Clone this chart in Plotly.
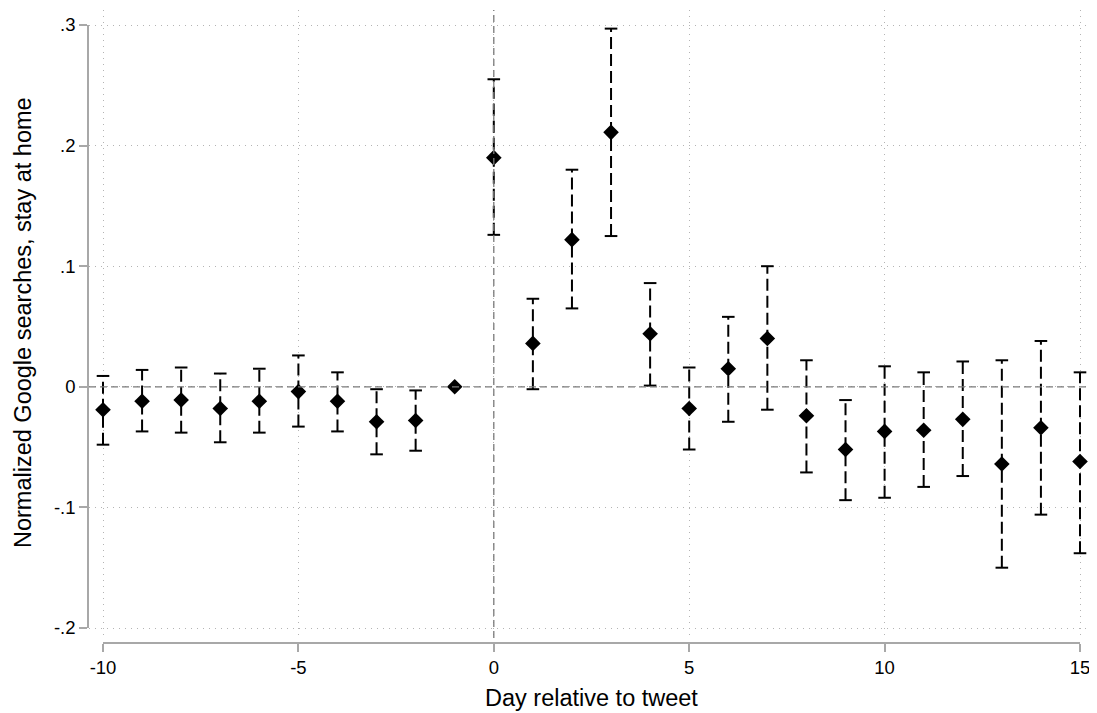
import plotly.graph_objects as go

# event-study estimates
days = list(range(-10, 16))
coef = [-0.019, -0.012, -0.011, -0.018, -0.012, -0.004, -0.012, -0.029, -0.028, 0.000,
        0.190, 0.036, 0.122, 0.211, 0.044, -0.018, 0.015, 0.040, -0.024, -0.052,
        -0.037, -0.036, -0.027, -0.064, -0.034, -0.062]
ci_hi = [0.009, 0.014, 0.016, 0.011, 0.015, 0.026, 0.012, -0.002, -0.003, None,
         0.255, 0.073, 0.180, 0.297, 0.086, 0.016, 0.058, 0.100, 0.022, -0.011,
         0.017, 0.012, 0.021, 0.022, 0.038, 0.012]
ci_lo = [-0.048, -0.037, -0.038, -0.046, -0.038, -0.033, -0.037, -0.056, -0.053, None,
         0.126, -0.002, 0.065, 0.125, 0.001, -0.052, -0.029, -0.019, -0.071, -0.094,
         -0.092, -0.083, -0.074, -0.150, -0.106, -0.138]

xticks = [-10, -5, 0, 5, 10, 15]
xtick_text = ['-10', '-5', '0', '5', '10', '15']
yticks = [-0.2, -0.1, 0, 0.1, 0.2, 0.3]
ytick_text = ['-.2', '-.1', '0', '.1', '.2', '.3']

# page has an 8px body margin, so the figure is a bit smaller than the window
OFF = 8
W, H = 1097 - OFF, 713 - OFF
FONT = 'Liberation Sans, Arial, Helvetica, sans-serif'
AXCOL = '#a8a8a8'

# pixel layout in window coords (stata style: axes offset from plot region)
px_x0, px_x1 = 103 - OFF, 1080 - OFF      # x=-10 .. x=15
px_y0, px_y1 = 628 - OFF, 25 - OFF        # y=-.2 .. y=.3
reg_l, reg_r, reg_t, reg_b = 89 - OFF, 1095 - OFF, 10 - OFF, 638 - OFF
xaxis_px, yaxis_px = 643 - OFF, 88 - OFF

ppx = (px_x1 - px_x0) / (xticks[-1] - xticks[0])
ppy = (px_y0 - px_y1) / (yticks[-1] - yticks[0])
xr = [xticks[0] - (px_x0 - reg_l) / ppx, xticks[0] + (reg_r - px_x0) / ppx]
yr = [yticks[0] - (reg_b - px_y0) / ppy, yticks[0] + (px_y0 - reg_t) / ppy]

# dashed spikes for the confidence intervals
seg_x, seg_y = [], []
for d, lo, hi in zip(days, ci_lo, ci_hi):
    if lo is None:
        continue
    seg_x += [d, d, None]
    seg_y += [lo, hi, None]

fig = go.Figure()
fig.add_trace(go.Scatter(x=seg_x, y=seg_y, mode='lines',
                         line=dict(color='black', width=2, dash='12px,5px'),
                         hoverinfo='skip', showlegend=False, cliponaxis=False))
fig.add_trace(go.Scatter(x=days + days, y=ci_lo + ci_hi, mode='markers',
                         marker=dict(symbol='line-ew', size=9,
                                     line=dict(color='black', width=2)),
                         hoverinfo='skip', showlegend=False, cliponaxis=False))
fig.add_trace(go.Scatter(x=days, y=coef, mode='markers',
                         marker=dict(symbol='diamond', size=12, color='black',
                                     line=dict(width=0)),
                         showlegend=False, cliponaxis=False))
# invisible trace so the offset axes get drawn
fig.add_trace(go.Scatter(x=[xticks[0], xticks[-1]], y=[yticks[0], yticks[-1]],
                         xaxis='x2', yaxis='y2', mode='markers',
                         marker=dict(opacity=0), hoverinfo='skip', showlegend=False))

fig.add_hline(y=0, line=dict(color='#7a7a7a', width=1.3, dash='7px,4px'))
fig.add_vline(x=0, line=dict(color='#7a7a7a', width=1.3, dash='7px,4px'))

grid = dict(showgrid=True, gridcolor='#b4b4b4', gridwidth=1, griddash='1px,5px',
            zeroline=False, showline=False, showticklabels=False, ticks='',
            automargin=False)
offset_ax = dict(anchor='free', ticks='outside', ticklen=8, tickwidth=1.5,
                 tickcolor=AXCOL, showline=True, linecolor=AXCOL, linewidth=1.5,
                 showgrid=False, zeroline=False, automargin=False,
                 tickfont=dict(size=18.5, color='black'))
fig.update_layout(
    template='none',
    width=W, height=H,
    margin=dict(l=0, r=0, t=0, b=0, autoexpand=False),
    paper_bgcolor='white', plot_bgcolor='rgba(0,0,0,0)',
    font=dict(family=FONT, size=18, color='black'),
    xaxis=dict(domain=[reg_l / W, reg_r / W], range=xr, tickvals=xticks, **grid),
    yaxis=dict(domain=[1 - reg_b / H, 1 - reg_t / H], range=yr, tickvals=yticks, **grid),
    xaxis2=dict(domain=[px_x0 / W, px_x1 / W], range=[xticks[0], xticks[-1]],
                position=1 - xaxis_px / H, tickvals=xticks, ticktext=xtick_text,
                **offset_ax),
    yaxis2=dict(domain=[1 - px_y0 / H, 1 - px_y1 / H], range=[yticks[0], yticks[-1]],
                position=yaxis_px / W, tickvals=yticks, ticktext=ytick_text,
                **offset_ax),
)

fig.add_annotation(text='Day relative to tweet', xref='paper', yref='paper',
                   x=(px_x0 + px_x1) / 2 / W, y=1 - (698 - OFF) / H, showarrow=False,
                   font=dict(size=23.5), xanchor='center', yanchor='middle')
fig.add_annotation(text='Normalized Google searches, stay at home', xref='paper', yref='paper',
                   x=(23 - OFF) / W, y=1 - (323 - OFF) / H, textangle=-90,
                   showarrow=False, font=dict(size=23.5), xanchor='center', yanchor='middle')

fig.write_html("out.html")
